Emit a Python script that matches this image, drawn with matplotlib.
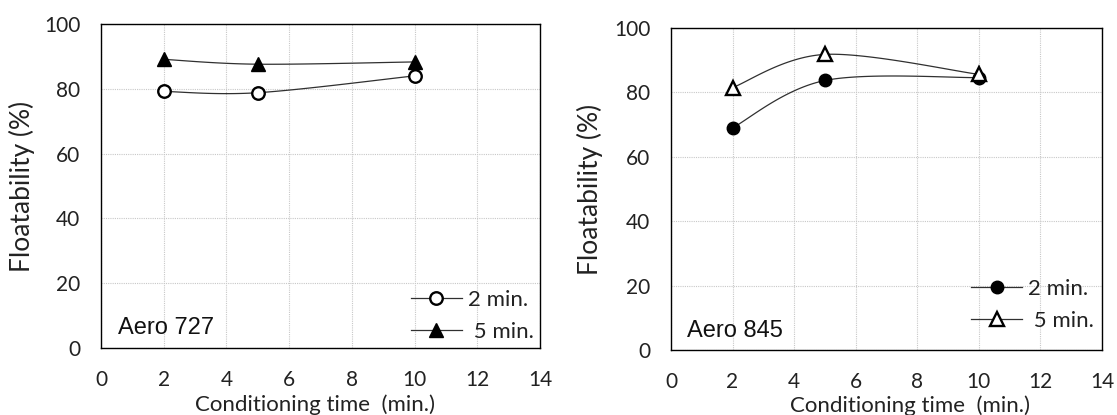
import numpy as np
import matplotlib
matplotlib.use("Agg")
import matplotlib.pyplot as plt
from matplotlib.lines import Line2D

times = [2, 5, 10]
aero727_2min = [79.2, 78.8, 84.0]
aero727_5min = [89.1, 87.6, 88.3]
aero845_2min = [69.0, 83.7, 84.6]
aero845_5min = [81.5, 91.8, 85.6]
series_labels = ["2 min.", " 5 min."]
panel_labels = ["Aero 727", "Aero 845"]
xticks = [0, 2, 4, 6, 8, 10, 12, 14]
yticks = [0, 20, 40, 60, 80, 100]

LABEL_FONT = ["Lato", "DejaVu Sans"]
ARIAL = ["Liberation Sans", "DejaVu Sans"]


def smooth(xs, ys, sx=14.0, sy=100.0, n=40):
    """Excel-like smoothed line via cubic Bezier through the points."""
    P = np.column_stack([np.asarray(xs, float) / sx, np.asarray(ys, float) / sy])
    out = [P[0]]
    m = len(P)
    for i in range(m - 1):
        p0 = P[i - 1] if i > 0 else P[i]
        p1 = P[i]
        p2 = P[i + 1]
        p3 = P[i + 2] if i + 2 < m else P[i + 1]
        c1 = p1 + (p2 - p0) / 6.0
        c2 = p2 - (p3 - p1) / 6.0
        t = np.linspace(0, 1, n)[1:, None]
        seg = ((1 - t) ** 3) * p1 + 3 * ((1 - t) ** 2) * t * c1 + 3 * (1 - t) * t ** 2 * c2 + t ** 3 * p2
        out.extend(seg)
    out = np.array(out)
    return out[:, 0] * sx, out[:, 1] * sy


fig = plt.figure(figsize=(11.17, 4.15), dpi=100)
ax1 = fig.add_axes([0.0904, 0.1614, 0.3930, 0.7807])
ax2 = fig.add_axes([0.6007, 0.1566, 0.3859, 0.7759])

panels = [
    (ax1, aero727_2min, aero727_5min,
     dict(marker="o", mfc="white", mec="black", ms=9, mew=1.7),
     dict(marker="^", mfc="black", mec="black", ms=10.5, mew=1.0),
     panel_labels[0], (0.039, 0.062), (0.487, -0.193), -0.18, (0.706, 0.10)),
    (ax2, aero845_2min, aero845_5min,
     dict(marker="o", mfc="black", mec="black", ms=9, mew=1.0),
     dict(marker="^", mfc="white", mec="black", ms=10.5, mew=1.7),
     panel_labels[1], (0.037, 0.059), (0.555, -0.193), -0.188, (0.696, 0.14)),
]

for ax, s2, s5, m2, m5, lab, labpos, xlpos, ylx, legpos in panels:
    for s, mk in ((s2, m2), (s5, m5)):
        sx, sy = smooth(times, s)
        ax.plot(sx, sy, color="#303030", lw=0.9, zorder=2)
        ax.plot(times, s, ls="none", zorder=3, **mk)
    ax.set_xlim(0, 14)
    ax.set_ylim(0, 100)
    ax.set_xticks(xticks)
    ax.set_yticks(yticks)
    ax.grid(True, color="#c8c8c8", ls=(0, (1, 1)), lw=0.8, zorder=0)
    ax.tick_params(axis="x", length=0, pad=16, labelsize=15, labelcolor="#222222")
    ax.tick_params(axis="y", length=0, pad=15, labelsize=15, labelcolor="#222222")
    for t in ax.get_xticklabels() + ax.get_yticklabels():
        t.set_family(LABEL_FONT)
    for sp in ax.spines.values():
        sp.set_color("black")
        sp.set_linewidth(1.0)
    ax.set_xlabel("Conditioning time  (min.)", fontsize=16, family=LABEL_FONT,
                  color="#222222", va="baseline")
    ax.xaxis.set_label_coords(*xlpos)
    ax.set_ylabel("Floatability (%)", fontsize=19, family=LABEL_FONT,
                  color="#222222", va="center")
    ax.yaxis.set_label_coords(ylx, 0.5)
    ax.text(labpos[0], labpos[1], lab, transform=ax.transAxes, fontsize=17,
            family=ARIAL, ha="left", va="center", color="#111111")
    handles = [Line2D([], [], color="#303030", lw=0.9, **m2),
               Line2D([], [], color="#303030", lw=0.9, **m5)]
    leg = ax.legend(handles, series_labels, loc="center left",
                    bbox_to_anchor=legpos, frameon=False, borderpad=0,
                    borderaxespad=0,
                    handlelength=2.3, handletextpad=0.25, labelspacing=0.55,
                    prop=dict(family=LABEL_FONT, size=16))
    for t in leg.get_texts():
        t.set_color("#222222")

fig.savefig("out.png", dpi=100)
